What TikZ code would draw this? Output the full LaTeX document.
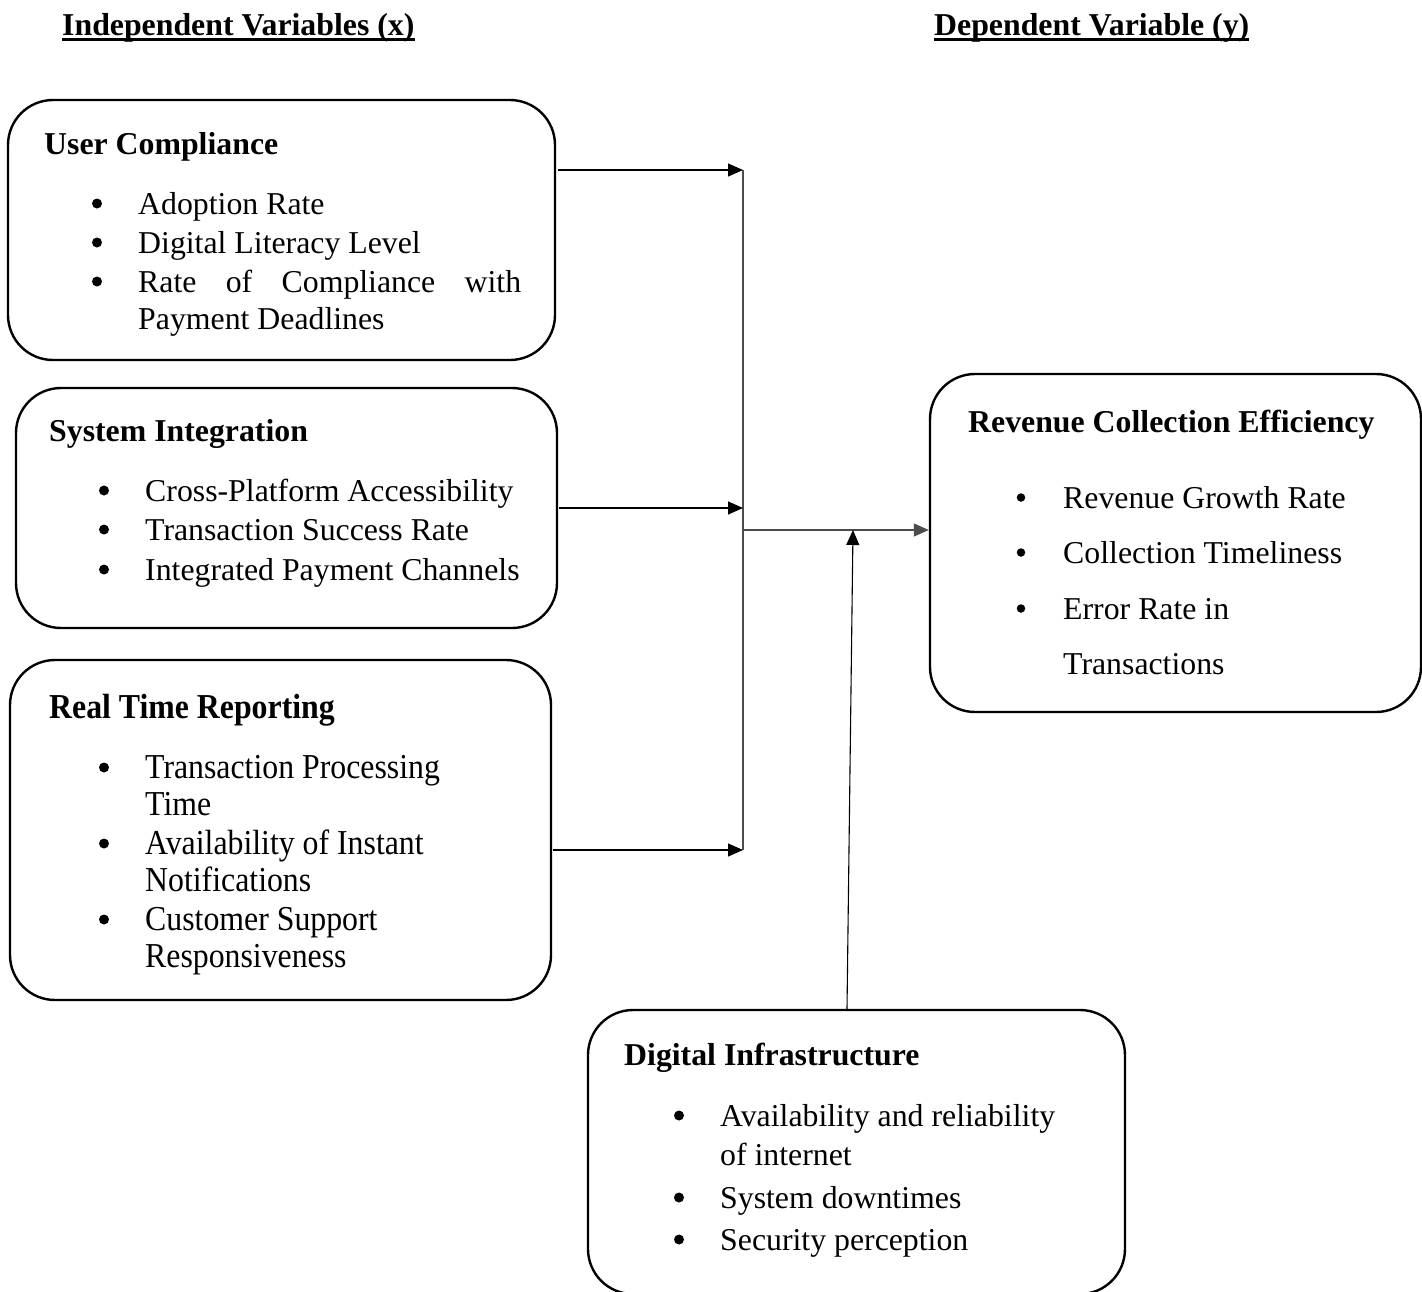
\documentclass[tikz,border=0pt]{standalone}
\usepackage{fontspec}
\setmainfont{Liberation Serif}
\usepackage{graphicx}
\usetikzlibrary{arrows.meta}
\newcommand{\mytall}[1]{\scalebox{1}[1.1]{#1}}
\begin{document}
\begin{tikzpicture}[x=1pt,y=-1pt,
  box/.style={draw, line width=2.4pt, rounded corners=45pt, inner sep=0pt},
  txt/.style={anchor=base west, inner sep=0pt, font=\fontsize{31.8}{38}\selectfont},
  hd/.style={anchor=base west, inner sep=0pt, font=\fontsize{31.8}{38}\selectfont\bfseries},
  bul/.style={circle, fill, inner sep=0pt, minimum size=10pt, yshift=10.5pt},
  arr/.style={-{Triangle[length=15pt,width=13pt]}, line width=1.3pt},
  trunk/.style={line width=1.4pt, draw=black!70}]
\useasboundingbox (0,0) rectangle (1422,1291);

% titles
\node[hd] (tind) at (62,35) {Independent Variables (x)};
\node[hd] (tdep) at (934,35) {Dependent Variable (y)};
\draw[line width=2.4pt] ([yshift=-4.5pt]tind.base west) -- ([yshift=-4.5pt]tind.base east);
\draw[line width=2.4pt] ([yshift=-4.5pt]tdep.base west) -- ([yshift=-4.5pt]tdep.base east);

% boxes
\node[box, minimum width=547pt, minimum height=260pt] (uc) at (281.5,230) {};
\node[box, minimum width=541pt, minimum height=240pt] (si) at (286.5,508) {};
\node[box, minimum width=541pt, minimum height=340pt] (rtr) at (280.5,830) {};
\node[box, minimum width=491pt, minimum height=338pt] (rce) at (1175.5,543) {};
\node[box, minimum width=537pt, minimum height=284pt] (di) at (856.5,1152) {};

% User Compliance
\node[hd] (uch) at (44,154) {User Compliance};
\node[bul] (ucb1) at (97,214) {};
\node[bul] (ucb2) at (97,253) {};
\node[bul] (ucb3) at (97,292) {};
\node[txt] (uc1) at (138,214) {Adoption Rate};
\node[txt] (uc2) at (138,253) {Digital Literacy Level};
\node[txt] (uc3) at (138,292) {\makebox[383pt][s]{Rate\hfill of\hfill Compliance\hfill with}};
\node[txt] (uc4) at (138,329) {Payment Deadlines};

% System Integration
\node[hd] (sih) at (49,441) {System Integration};
\node[bul] (sib1) at (104,501) {};
\node[bul] (sib2) at (104,540) {};
\node[bul] (sib3) at (104,580) {};
\node[txt] (si1) at (145,501) {Cross-Platform Accessibility};
\node[txt] (si2) at (145,540) {Transaction Success Rate};
\node[txt] (si3) at (145,580) {Integrated Payment Channels};

% Real Time Reporting
\node[hd] (rtrh) at (49,718) {\mytall{Real Time Reporting}};
\node[bul] (rtrb1) at (104,778) {};
\node[bul] (rtrb2) at (104,854) {};
\node[bul] (rtrb3) at (104,930) {};
\node[txt] (rtr1) at (145,778) {\mytall{Transaction Processing}};
\node[txt] (rtr2) at (145,815) {\mytall{Time}};
\node[txt] (rtr3) at (145,854) {\mytall{Availability of Instant}};
\node[txt] (rtr4) at (145,891) {\mytall{Notifications}};
\node[txt] (rtr5) at (145,930) {\mytall{Customer Support}};
\node[txt] (rtr6) at (145,967) {\mytall{Responsiveness}};

% Revenue Collection Efficiency
\node[hd] (rceh) at (968,432) {Revenue Collection Efficiency};
\node[bul, minimum size=8.5pt] (rceb1) at (1021,508) {};
\node[bul, minimum size=8.5pt] (rceb2) at (1021,563) {};
\node[bul, minimum size=8.5pt] (rceb3) at (1021,619) {};
\node[txt] (rce1) at (1063,508) {Revenue Growth Rate};
\node[txt] (rce2) at (1063,563) {Collection Timeliness};
\node[txt] (rce3) at (1063,619) {Error Rate in};
\node[txt] (rce4) at (1063,674) {Transactions};

% Digital Infrastructure
\node[hd] (dih) at (624,1065) {Digital Infrastructure};
\node[bul] (dib1) at (679,1126) {};
\node[bul] (dib2) at (679,1208) {};
\node[bul] (dib3) at (679,1250) {};
\node[txt] (di1) at (720,1126) {Availability and reliability};
\node[txt] (di2) at (720,1165) {of internet};
\node[txt] (di3) at (720,1208) {System downtimes};
\node[txt] (di4) at (720,1250) {Security perception};

% connectors
\coordinate (j1) at (743,170);
\coordinate (j2) at (743,508);
\coordinate (j3) at (743,850);
\coordinate (jm) at (743,530);
\coordinate (jd) at (853,530);
\draw[trunk] (j1) -- (j3);
\draw[arr] ([xshift=2pt]uc.east |- j1) -- (j1);
\draw[arr] ([xshift=1pt]si.east |- j2) -- (j2);
\draw[arr] ([xshift=1pt]rtr.east |- j3) -- (j3);
\draw[arr, draw=black!70] (jm) -- (rce.west |- jm);
\draw[arr, line width=1.1pt] ([xshift=-9.5pt]di.north) -- (jd);
\end{tikzpicture}
\end{document}
